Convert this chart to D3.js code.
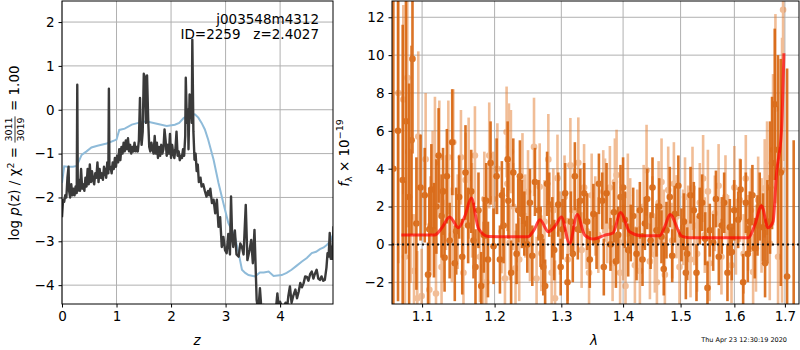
<!DOCTYPE html>
<html>
<head>
<meta charset="utf-8">
<script src="https://cdn.jsdelivr.net/npm/d3@7"></script>
<style>
body { margin: 0; background: #fff; }
svg text { font-family: "DejaVu Sans", sans-serif; }
</style>
</head>
<body>
<svg id="chart" width="800" height="350"></svg>
<script>
// ---- left panel: p(z) ----
var zDark = [0.00,0.02,0.04,0.06,0.08,0.10,0.12,0.13,0.15,0.17,0.19,0.21,0.23,0.25,0.27,0.28,0.29,0.31,0.33,0.35,0.37,0.39,0.41,0.43,0.45,0.47,0.49,0.51,0.53,0.55,0.57,0.59,0.61,0.63,0.65,0.67,0.69,0.71,0.73,0.75,0.77,0.79,0.81,0.83,0.85,0.86,0.87,0.89,0.91,0.93,0.95,0.97,0.99,1.01,1.03,1.05,1.07,1.09,1.11,1.13,1.15,1.17,1.19,1.21,1.23,1.25,1.27,1.29,1.31,1.33,1.35,1.37,1.39,1.41,1.43,1.44,1.46,1.48,1.50,1.52,1.54,1.56,1.58,1.60,1.62,1.64,1.66,1.68,1.70,1.72,1.74,1.76,1.78,1.80,1.82,1.84,1.86,1.88,1.90,1.92,1.94,1.96,1.98,2.00,2.02,2.04,2.06,2.08,2.10,2.12,2.14,2.16,2.18,2.20,2.22,2.24,2.26,2.27,2.29,2.31,2.32,2.34,2.36,2.38,2.39,2.41,2.43,2.45,2.47,2.49,2.51,2.54,2.56,2.59,2.62,2.65,2.68,2.70,2.72,2.75,2.78,2.81,2.84,2.87,2.90,2.93,2.96,2.99,3.02,3.05,3.08,3.10,3.12,3.14,3.17,3.20,3.24,3.27,3.30,3.33,3.37,3.40,3.44,3.47,3.50,3.53,3.57,3.60,3.63,3.66,3.70,3.75,3.80,3.85,3.90,3.93,3.95,3.98,4.00,4.05,4.10,4.13,4.15,4.18,4.21,4.24,4.28,4.31,4.34,4.37,4.40,4.43,4.46,4.49,4.52,4.55,4.58,4.61,4.63,4.67,4.70,4.73,4.76,4.79,4.82,4.85,4.87,4.89,4.91,4.93,4.94,4.96,4.98];
var logpDark = [-2.45,-2.05,-2.10,-1.95,-2.00,-1.55,-1.30,-1.85,-2.00,-1.70,-1.95,-1.80,-1.95,-1.75,-1.90,0.57,-1.85,-1.60,-1.85,-1.35,-1.80,-1.70,-1.85,-1.55,-1.75,-1.35,-1.70,-1.25,-1.65,-1.40,-1.60,-1.70,-1.45,-1.55,-1.20,-1.65,-1.35,-1.55,-1.45,-1.60,-1.30,-1.40,-1.55,-1.20,-1.45,0.48,-1.35,-1.30,-1.45,-1.20,-1.35,-1.10,-1.30,-1.05,-1.20,-0.90,-1.15,-0.85,-1.00,-0.75,-0.95,-0.70,-0.90,-0.65,-0.95,-0.80,-1.00,-0.85,-0.95,-0.75,-0.95,-0.85,-0.95,-0.70,0.27,-0.40,-0.80,-0.50,0.82,0.75,-0.30,0.78,-0.20,-0.85,-0.95,-0.75,-0.90,-1.00,-0.60,-1.00,-0.75,-1.10,-0.85,-1.05,-0.80,-1.00,-0.90,-0.45,-0.70,-1.05,-0.80,-1.00,-0.55,-1.10,-0.80,-1.00,-1.10,-0.90,-0.50,-1.05,-0.95,-1.15,-1.05,-1.10,-0.90,-1.05,-0.60,0.73,-0.30,0.00,-0.90,0.35,0.20,-0.30,1.60,-0.50,-1.14,-1.00,-1.40,-1.25,-1.65,-1.55,-1.75,-1.70,-1.85,-1.98,-1.85,-1.95,-1.80,-2.13,-2.05,-2.36,-2.05,-2.67,-2.45,-3.13,-2.90,-3.20,-3.27,-2.83,-3.30,-1.98,-2.90,-3.13,-2.75,-3.30,-3.35,-3.05,-3.13,-3.30,-2.17,-3.43,-3.20,-2.97,-3.50,-2.74,-4.34,-4.60,-4.07,-4.60,-4.45,-4.50,-4.48,-4.52,-4.55,-4.45,-4.19,-4.60,-4.38,-4.55,-4.40,-4.50,-4.26,-4.03,-4.40,-4.25,-4.10,-4.30,-4.15,-3.95,-4.05,-3.96,-3.80,-3.81,-3.90,-3.75,-3.69,-3.85,-3.77,-3.65,-3.85,-3.88,-3.80,-3.90,-3.88,-3.60,-3.27,-3.35,-2.81,-3.40,-3.12,-3.40,-2.66];
var zSmooth = [0.00,0.04,0.10,0.20,0.27,0.36,0.45,0.54,0.65,0.82,1.00,1.05,1.15,1.28,1.40,1.49,1.60,1.74,1.92,2.07,2.15,2.23,2.30,2.37,2.44,2.50,2.56,2.62,2.68,2.78,2.87,2.96,3.05,3.17,3.24,3.30,3.36,3.42,3.54,3.63,3.70,3.79,3.88,4.03,4.12,4.21,4.30,4.40,4.49,4.58,4.66,4.73,4.80,4.86,4.92,4.98];
var logpSmooth = [-1.67,-1.29,-1.30,-1.30,-1.28,-1.03,-0.95,-0.86,-0.82,-0.77,-0.68,-0.46,-0.43,-0.34,-0.30,-0.27,-0.28,-0.32,-0.37,-0.34,-0.30,-0.19,-0.14,-0.10,-0.11,-0.18,-0.30,-0.45,-0.68,-1.14,-1.67,-2.13,-2.58,-2.89,-3.27,-3.65,-3.72,-3.77,-3.80,-3.71,-3.71,-3.69,-3.79,-3.77,-3.72,-3.65,-3.56,-3.46,-3.38,-3.27,-3.24,-3.18,-3.14,-3.08,-3.00,-2.81];
var zTicks = [0, 1, 2, 3, 4];
var logpTicks = [-4, -3, -2, -1, 0, 1, 2];

// ---- right panel: spectrum ----
var darkLam  = [1.0627,1.0687,1.0747,1.0789,1.0830,1.0862,1.0874,1.0925,1.0980,1.1035,1.1079,1.1123,1.1158,1.1190,1.1220,1.1260,1.1301,1.1332,1.1370,1.1405,1.1460,1.1500,1.1543,1.1588,1.1625,1.1668,1.1728,1.1770,1.1809,1.1845,1.1880,1.1942,1.1985,1.2029,1.2077,1.2130,1.2189,1.2200,1.2272,1.2321,1.2370,1.2400,1.2435,1.2480,1.2520,1.2595,1.2650,1.2722,1.2750,1.2813,1.2890,1.2952,1.3020,1.3097,1.3150,1.3213,1.3300,1.3361,1.3452,1.3510,1.3561,1.3654,1.3725,1.3790,1.3846,1.3918,1.3957,1.4030,1.4086,1.4171,1.4228,1.4285,1.4371,1.4411,1.4503,1.4573,1.4660,1.4748,1.4807,1.4896,1.5016,1.5095,1.5119,1.5240,1.5289,1.5350,1.5393,1.5492,1.5535,1.5598,1.5704,1.5805,1.5868,1.5913,1.5996,1.6073,1.6169,1.6221,1.6299,1.6397,1.6494,1.6560,1.6647,1.6700,1.6740,1.6794,1.6860,1.6916,1.7045,1.7180,
                1.1095,1.1280,1.1440,1.1700,1.1905,1.2105,1.2240,1.2345,1.2555,1.2680,1.2780,1.2860,1.2990,1.3060,1.3180,1.3260,1.3410,1.3600,1.3680,1.3880,1.4000,1.4130,1.4330,1.4470,1.4620,1.4700,1.4850,1.4960,1.5060,1.5180,1.5450,1.5650,1.5760,1.5950,1.6120,1.6260,1.6350,1.6450,1.6600];
var darkFlux = [4.0,6.0,3.4,6.5,2.5,5.5,9.8,1.1,3.0,2.6,-1.6,2.9,0.75,2.0,4.7,1.5,-0.7,3.6,0.2,5.4,0.7,2.5,-0.65,3.8,1.0,2.8,-1.2,1.8,-2.2,0.5,2.3,4.3,-0.1,3.6,-0.8,1.0,4.5,2.3,3.8,-0.5,3.6,1.6,1.1,0.0,2.2,3.3,1.8,-1.2,-2.2,2.1,-0.3,2.1,0.8,-2.0,1.2,3.6,2.3,2.7,-0.8,1.6,0.2,2.3,2.7,0.0,1.7,0.5,2.5,1.3,-0.3,1.5,-0.5,1.8,1.1,2.4,3.0,0.75,0.4,0.75,2.5,1.6,0.5,-1.5,-0.5,1.8,-1.5,1.5,2.2,-2.3,0.75,0.1,-0.65,2.2,-1.5,0.9,1.8,1.3,-2.0,2.2,1.2,-0.2,2.0,0.9,1.2,3.0,4.3,7.4,5.0,3.8,-1.7,-4.0,
                0.8,2.8,-1.0,0.2,-0.8,2.6,-1.5,1.8,-0.6,0.4,3.2,0.9,-1.2,2.7,-0.5,0.8,1.2,3.2,-1.2,-0.9,3.0,0.6,-0.8,0.2,2.0,-1.3,-0.6,3.1,1.2,2.6,0.3,2.4,1.0,-0.4,2.9,-0.5,2.6,1.0,-1.0];
var darkErr  = [12,9,8.2,7,6,5,5,3.5,2.8,2.5,1.7,2.4,2.5,2.5,2.5,2.2,1.8,2.5,2.0,2.8,2.3,2.2,2.0,2.5,2.0,2.2,2.0,2.0,1.8,2.0,2.0,2.2,2.0,2.0,1.8,2.0,2.0,2.0,1.8,1.6,1.9,1.8,1.7,1.5,1.8,1.8,1.6,1.5,1.4,1.7,1.6,1.7,1.6,1.5,1.6,1.8,1.7,1.6,1.5,1.6,1.5,1.5,1.6,1.4,1.6,1.5,1.7,1.5,1.4,1.5,1.4,1.5,1.4,1.6,1.6,1.4,1.4,1.5,1.6,1.5,1.4,1.4,1.4,1.5,1.5,1.5,1.5,1.4,1.4,1.5,1.5,1.6,1.5,1.5,1.6,1.5,1.5,1.6,1.6,1.6,1.8,1.8,2.2,3.5,3.5,4.0,5.0,6.0,11,9.5,
                2.2,2.3,2.0,2.0,2.0,1.8,1.7,1.7,1.6,1.6,1.7,1.6,1.5,1.6,1.5,1.6,1.5,1.6,1.5,1.4,1.6,1.5,1.4,1.5,1.5,1.4,1.4,1.6,1.5,1.5,1.4,1.5,1.5,1.5,1.6,1.5,1.6,1.6,1.8];
var lightLam  = [1.0691,1.0755,1.0777,1.0807,1.0819,1.0850,1.0894,1.0937,1.0950,1.0994,1.1047,1.1096,1.1140,1.1171,1.1185,1.1230,1.1280,1.1320,1.1352,1.1420,1.1480,1.1525,1.1590,1.1632,1.1720,1.1791,1.1838,1.1853,1.1923,1.1981,1.2101,1.2150,1.2174,1.2185,1.2208,1.2222,1.2237,1.2305,1.2408,1.2491,1.2520,1.2581,1.2667,1.2692,1.2799,1.2850,1.2876,1.2902,1.2980,1.3050,1.3142,1.3268,1.3321,1.3401,1.3482,1.3590,1.3671,1.3700,1.3736,1.3825,1.3863,1.3891,1.4002,1.4041,1.4120,1.4200,1.4285,1.4350,1.4400,1.4458,1.4544,1.4610,1.4661,1.4720,1.4779,1.4850,1.4927,1.5047,1.5137,1.5216,1.5300,1.5411,1.5442,1.5530,1.5629,1.5754,1.5830,1.5945,1.6030,1.6105,1.6221,1.6266,1.6364,1.6463,1.6593,1.6694,1.6760,1.6808,1.6861,1.6942,1.6963,
                 1.1110,1.1260,1.1400,1.1560,1.1680,1.1880,1.2040,1.2270,1.2360,1.2450,1.2620,1.2740,1.2940,1.3100,1.3200,1.3360,1.3440,1.3540,1.3780,1.3950,1.4080,1.4240,1.4500,1.4580,1.4700,1.4880,1.4980,1.5080,1.5180,1.5250,1.5350,1.5500,1.5700,1.5880,1.6000,1.6180,1.6320,1.6420,1.6530,1.6640];
var lightFlux = [8.0,7.65,-0.65,8.8,4.9,1.46,-1.4,-2.85,5.7,-2.73,4.5,-2.4,3.0,4.3,-2.6,4.6,0.5,2.2,4.6,5.4,1.2,4.6,3.4,3.5,4.7,-0.65,-1.2,2.4,4.7,2.4,0.67,-1.8,5.94,3.2,5.15,0.1,4.9,-1.27,3.48,2.78,0.05,5.15,3.04,-0.47,4.49,-1.5,1.81,-2.85,0.6,2.5,4.18,4.31,-0.3,0.7,2.6,0.49,2.78,2.34,1.0,-1.0,3.3,3.66,0.1,-2.2,1.5,-1.1,-1.4,2.0,3.92,-0.9,-0.55,2.2,3.3,-1.6,2.87,0.2,1.46,0.9,1.11,2.96,-0.5,3.48,0.49,-1.0,1.64,-0.65,2.51,-1.1,0.4,2.34,3.48,0.61,-1.46,2.34,2.96,0.05,5.0,7.17,-0.65,3.92,12.4,
                 1.0,-1.2,0.5,-1.5,1.8,-2.0,4.0,2.0,-0.8,1.5,-1.8,1.2,3.5,-0.8,1.8,3.0,-1.5,1.5,3.0,-1.5,2.6,0.8,1.5,-2.0,0.8,3.2,-1.2,2.5,-0.8,1.0,2.2,2.8,3.1,0.5,3.0,-0.5,1.8,-0.2,1.0,3.5];
var lightErr  = [9,5,4,4.5,4,3.5,3,2.5,4.5,2.5,3.5,2.5,3,3.5,2.5,3,2.5,2.5,3,2.8,2.5,2.5,2.5,3.2,2.6,2.4,2.4,2.5,2.8,2.5,2.2,2.2,2.4,2.5,2.3,2,2.2,2,2.4,2.2,2,2.6,2.3,2,2.4,2,2.2,2,2.2,2.2,2.5,2.4,2,2,2.2,2,2.2,2.2,2,2,2.3,2.4,2,2,2,2,2,2.2,2.4,2,2,2.2,2.3,2,2.3,2,2.2,2,2,2.2,2,2.3,2,2,2,2,2.2,2,2,2.2,2.3,2,2,2.3,2.6,3,4,5,5,7,8,
                 2.6,2.5,2.5,2.4,2.5,2.4,2.4,2.3,2.2,2.2,2.2,2.2,2.3,2.2,2.2,2.3,2.0,2.1,2.2,2.1,2.2,2.1,2.1,2.0,2.1,2.2,2.0,2.1,2.0,2.1,2.1,2.2,2.2,2.1,2.2,2.1,2.2,2.3,2.5,3.0];
var modelLam  = [1.073,1.117,1.126,1.137,1.149,1.158,1.167,1.177,1.191,1.249,1.258,1.267,1.280,1.292,1.300,1.313,1.325,1.337,1.351,1.370,1.383,1.396,1.411,1.431,1.463,1.472,1.481,1.502,1.517,1.627,1.640,1.653,1.666,1.676,1.683,1.693,1.698];
var modelFlux = [0.50,0.50,0.85,1.45,0.88,1.50,2.45,0.84,0.42,0.40,0.75,1.30,0.67,1.05,1.45,0.05,1.58,0.49,0.28,0.49,0.60,1.68,0.67,0.46,0.46,0.95,1.58,0.44,0.35,0.35,1.05,2.04,0.88,1.20,3.75,6.0,10.1];
var lamTicks  = [1.1, 1.2, 1.3, 1.4, 1.5, 1.6, 1.7];
var fluxTicks = [-2, 0, 2, 4, 6, 8, 10, 12];

var svg = d3.select("#chart");
var gridColor = "#b0b0b0";
var fs = "13.5px";

// scales
var L = {left: 62, right: 333, top: 1, bottom: 304};
var R = {left: 392, right: 799, top: 1, bottom: 304};
var xz = d3.scaleLinear().domain([0, 4.97]).range([L.left, L.right]);
var yp = d3.scaleLinear().domain([-4.43, 2.48]).range([L.bottom, L.top]);
var xl = d3.scaleLog().domain([1.061, 1.729]).range([R.left, R.right]);
var yf = d3.scaleLinear().domain([-3.15, 12.86]).range([R.bottom, R.top]);

function clip(id, box) {
  svg.append("clipPath").attr("id", id).append("rect")
     .attr("x", box.left).attr("y", box.top)
     .attr("width", box.right - box.left).attr("height", box.bottom - box.top);
}
clip("clipL", L);
clip("clipR", R);

function grid(box, xs, xt, ys, yt) {
  var g = svg.append("g");
  g.selectAll(".gx").data(xt).enter().append("line")
   .attr("x1", function(d){ return xs(d); }).attr("x2", function(d){ return xs(d); })
   .attr("y1", box.top).attr("y2", box.bottom)
   .attr("stroke", gridColor).attr("stroke-width", 1);
  g.selectAll(".gy").data(yt).enter().append("line")
   .attr("y1", function(d){ return ys(d); }).attr("y2", function(d){ return ys(d); })
   .attr("x1", box.left).attr("x2", box.right)
   .attr("stroke", gridColor).attr("stroke-width", 1);
}
grid(L, xz, zTicks, yp, logpTicks);
grid(R, xl, lamTicks, yf, fluxTicks);

// left panel lines
var pl = svg.append("g").attr("clip-path", "url(#clipL)");
pl.append("path")
  .datum(d3.range(zSmooth.length))
  .attr("d", d3.line().x(function(i){ return xz(zSmooth[i]); }).y(function(i){ return yp(logpSmooth[i]); }))
  .attr("fill", "none").attr("stroke", "#8fbbd9").attr("stroke-width", 2);
pl.append("path")
  .datum(d3.range(zDark.length))
  .attr("d", d3.line().x(function(i){ return xz(zDark[i]); }).y(function(i){ return yp(logpDark[i]); }))
  .attr("fill", "none").attr("stroke", "#3a3a3a").attr("stroke-width", 2.4)
  .attr("stroke-linejoin", "round");

// right panel error bars
var pr = svg.append("g").attr("clip-path", "url(#clipR)");
function errbars(lam, flux, err, color, op) {
  var g = pr.append("g").attr("opacity", op);
  var idx = d3.range(lam.length);
  g.selectAll("line").data(idx).enter().append("line")
   .attr("x1", function(i){ return xl(lam[i]); }).attr("x2", function(i){ return xl(lam[i]); })
   .attr("y1", function(i){ return yf(flux[i] - err[i]); })
   .attr("y2", function(i){ return yf(flux[i] + err[i]); })
   .attr("stroke", color).attr("stroke-width", 2.6);
  g.selectAll("circle").data(idx).enter().append("circle")
   .attr("cx", function(i){ return xl(lam[i]); })
   .attr("cy", function(i){ return yf(flux[i]); })
   .attr("r", 3.3).attr("fill", color);
}
errbars(lightLam, lightFlux, lightErr, "#e57d30", 0.5);
errbars(darkLam, darkFlux, darkErr, "#d8650f", 0.9);

pr.append("path")
  .datum(d3.range(modelLam.length))
  .attr("d", d3.line().curve(d3.curveMonotoneX)
     .x(function(i){ return xl(modelLam[i]); }).y(function(i){ return yf(modelFlux[i]); }))
  .attr("fill", "none").attr("stroke", "red").attr("stroke-opacity", 0.7).attr("stroke-width", 3);

pr.append("line")
  .attr("x1", R.left).attr("x2", R.right).attr("y1", yf(0)).attr("y2", yf(0))
  .attr("stroke", "#111").attr("stroke-width", 2).attr("stroke-dasharray", "2,3");

// axes
function axes(box, xs, xt, xfmt, ys, yt, yfmt) {
  svg.append("g").attr("transform", "translate(0," + box.bottom + ")")
     .call(d3.axisBottom(xs).tickValues(xt).tickFormat(xfmt).tickSize(3.5).tickPadding(4))
     .call(function(g){ g.select(".domain").remove(); });
  svg.append("g").attr("transform", "translate(" + box.left + ",0)")
     .call(d3.axisLeft(ys).tickValues(yt).tickFormat(yfmt).tickSize(3.5).tickPadding(4))
     .call(function(g){ g.select(".domain").remove(); });
  svg.append("rect").attr("x", box.left).attr("y", box.top)
     .attr("width", box.right - box.left).attr("height", box.bottom - box.top)
     .attr("fill", "none").attr("stroke", "#000").attr("stroke-width", 1);
}
axes(L, xz, zTicks, d3.format("d"), yp, logpTicks, d3.format("d"));
axes(R, xl, lamTicks, d3.format(".1f"), yf, fluxTicks, d3.format("d"));
svg.selectAll(".tick text").style("font-size", fs).attr("fill", "#000")
   .style("font-family", "'DejaVu Sans', sans-serif");
svg.selectAll(".tick line").attr("stroke", "#000");

// annotation
svg.append("text").attr("x", 319).attr("y", 24).attr("text-anchor", "end")
   .style("font-size", fs).text("j003548m4312");
svg.append("text").attr("x", 319).attr("y", 39).attr("text-anchor", "end")
   .style("font-size", fs).text("ID=2259\u00a0\u00a0\u00a0z=2.4027");

// x labels
svg.append("text").attr("x", 197).attr("y", 345).attr("text-anchor", "middle")
   .style("font-size", fs).style("font-style", "italic").text("z");
svg.append("text").attr("x", 594).attr("y", 345).attr("text-anchor", "middle")
   .style("font-size", fs).style("font-style", "italic").text("λ");

// left y label with fraction
var yl = svg.append("g");
var t1 = yl.append("text").style("font-size", fs);
t1.append("tspan").text("log\u00a0");
t1.append("tspan").style("font-style", "italic").text("p");
t1.append("tspan").text("(z)\u00a0/\u00a0χ");
t1.append("tspan").attr("dy", -5).style("font-size", "9.5px").text("2");
t1.append("tspan").attr("dy", 5).text("\u00a0=\u00a0");
var w1 = t1.node().getComputedTextLength();
var num = yl.append("text").attr("y", -7).style("font-size", "9.5px").text("3011");
var den = yl.append("text").attr("y", 4.5).style("font-size", "9.5px").text("3019");
var wf = Math.max(num.node().getComputedTextLength(), den.node().getComputedTextLength());
num.attr("x", w1 + 1); den.attr("x", w1 + 1);
yl.append("line").attr("x1", w1).attr("x2", w1 + wf + 2).attr("y1", -4).attr("y2", -4)
  .attr("stroke", "#000").attr("stroke-width", 0.8);
var t3 = yl.append("text").attr("x", w1 + wf + 3).style("font-size", fs)
  .text("\u00a0=\u00a01.00");
var wt = w1 + wf + 3 + t3.node().getComputedTextLength();
yl.attr("transform", "translate(19,153) rotate(-90) translate(" + (-wt / 2) + ",0)");

// right y label
var ry = svg.append("text").attr("transform", "translate(349,153) rotate(-90)")
   .attr("text-anchor", "middle").style("font-size", fs);
ry.append("tspan").style("font-style", "italic").text("f");
ry.append("tspan").attr("dy", 3).style("font-size", "9.5px").text("λ");
ry.append("tspan").attr("dy", -3).text("\u00a0×\u00a010");
ry.append("tspan").attr("dy", -6).style("font-size", "9.5px").text("−19");

// timestamp
svg.append("text").attr("x", 787).attr("y", 342).attr("text-anchor", "end")
   .style("font-size", "6.5px").text("Thu Apr 23 12:30:19 2020");
</script>
</body>
</html>
